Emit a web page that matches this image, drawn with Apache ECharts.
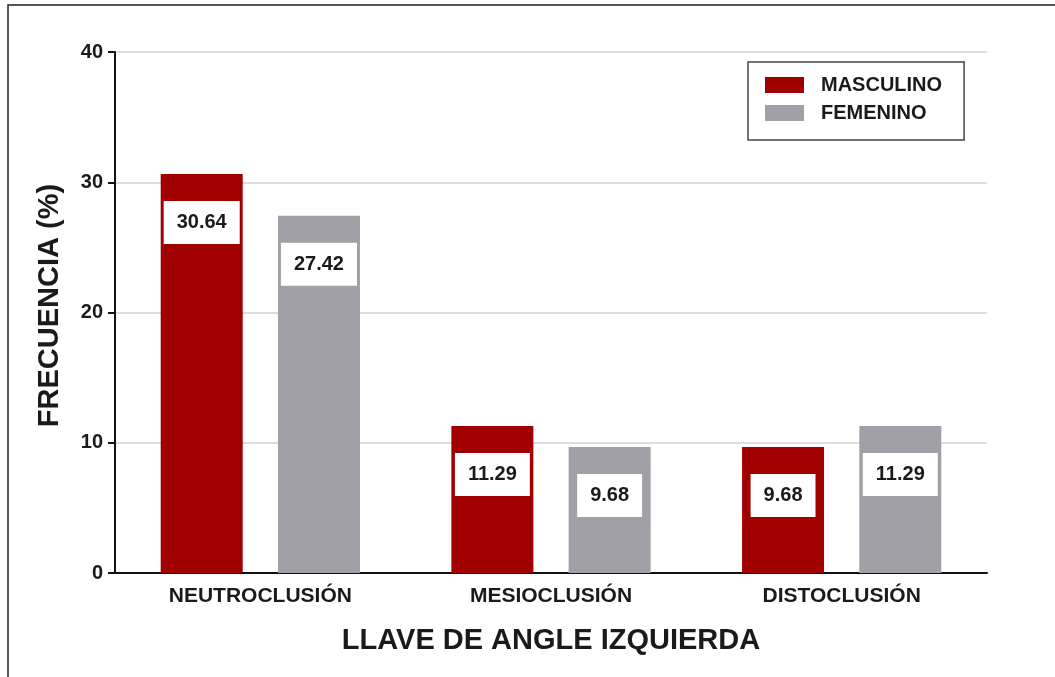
<!DOCTYPE html>
<html>
<head>
<meta charset="utf-8">
<script src="https://cdn.jsdelivr.net/npm/echarts@6/dist/echarts.min.js"></script>
<style>
  html, body { margin: 0; padding: 0; background: #fff; }
  #chart { width: 1055px; height: 677px; }
</style>
</head>
<body>
<div id="chart"></div>
<script>
// categories and values
var categories = ["NEUTROCLUSIÓN", "MESIOCLUSIÓN", "DISTOCLUSIÓN"];
var masculino = [30.64, 11.29, 9.68];
var femenino = [27.42, 9.68, 11.29];
var yTicks = { min: 0, max: 40, interval: 10 };

var FONT = "'Liberation Sans', Arial, sans-serif";
var INK = "#1a1a1a";

var barLabel = {
  show: true,
  position: "insideTop",
  distance: 27,
  backgroundColor: "#fff",
  padding: [12, 13, 11, 13],
  color: INK,
  fontFamily: FONT,
  fontWeight: "bold",
  fontSize: 20,
  formatter: function (p) { return p.value.toFixed(2); }
};

var chart = echarts.init(document.getElementById("chart"));
chart.setOption({
  animation: false,
  backgroundColor: "#fff",
  textStyle: { fontFamily: FONT },
  graphic: [
    {
      // outer frame, only left and top edges are inside the picture
      type: "rect",
      shape: { x: 8, y: 5, width: 1200, height: 800 },
      style: { fill: null, stroke: "#222", lineWidth: 1.5 },
      silent: true
    }
  ],
  grid: { left: 115, top: 52, right: 68, bottom: 104 },
  legend: {
    orient: "vertical",
    left: 748,
    top: 62,
    padding: [13, 22, 17, 17],
    itemGap: 8,
    itemWidth: 39,
    itemHeight: 16,
    icon: "rect",
    borderColor: "#444",
    borderWidth: 1.5,
    textStyle: { color: INK, fontSize: 20, fontWeight: "bold", fontFamily: FONT, padding: [0, 0, 0, 12] },
    data: ["MASCULINO", "FEMENINO"]
  },
  xAxis: {
    type: "category",
    data: categories,
    name: "LLAVE DE ANGLE IZQUIERDA",
    nameLocation: "middle",
    nameGap: 53,
    nameTextStyle: { color: INK, fontSize: 29, fontWeight: "bold", fontFamily: FONT },
    axisLine: { lineStyle: { color: "#111", width: 2 } },
    axisTick: { alignWithLabel: true, length: 6, lineStyle: { color: "#111", width: 2 } },
    axisLabel: { color: INK, fontSize: 21, fontWeight: "bold", margin: 13, fontFamily: FONT }
  },
  yAxis: {
    type: "value",
    min: yTicks.min,
    max: yTicks.max,
    interval: yTicks.interval,
    name: "FRECUENCIA (%)",
    nameLocation: "middle",
    nameGap: 51,
    nameTextStyle: { color: INK, fontSize: 29, fontWeight: "bold", fontFamily: FONT, padding: [0, 0, 0, 14] },
    axisLine: { show: true, lineStyle: { color: "#111", width: 2 } },
    axisTick: { show: true, length: 7, lineStyle: { color: "#111", width: 2 } },
    axisLabel: { color: INK, fontSize: 20, fontWeight: "bold", margin: 12, fontFamily: FONT },
    splitLine: { show: true, lineStyle: { color: "#d2d2d2", width: 1.5 } }
  },
  series: [
    {
      name: "MASCULINO",
      type: "bar",
      data: masculino,
      barWidth: 82,
      barGap: "43%",
      itemStyle: { color: "#a00000" },
      label: barLabel
    },
    {
      name: "FEMENINO",
      type: "bar",
      data: femenino,
      barWidth: 82,
      itemStyle: { color: "#a0a0a6" },
      label: barLabel
    }
  ]
});
</script>
</body>
</html>
